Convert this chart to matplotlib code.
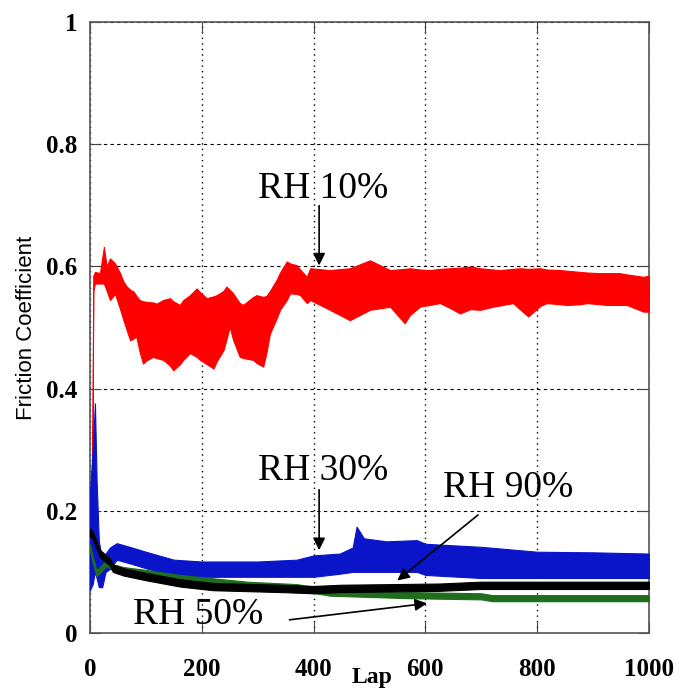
import matplotlib.pyplot as plt
import numpy as np

# envelope of each trace (lap, lower, upper)
lap_rh10 = [4, 6, 9, 18, 25, 30, 36, 45, 54, 60, 66, 72, 78, 83, 89, 95, 101, 113, 119, 131, 143, 149, 161, 167, 179, 191, 197, 209, 221, 227, 239, 244, 250, 256, 268, 274, 292, 298, 310, 316, 322, 334, 340, 352, 358, 370, 376, 388, 394, 429, 465, 501, 537, 563, 572, 590, 608, 626, 644, 662, 680, 698, 721, 733, 757, 769, 784, 805, 817, 841, 853, 877, 889, 912, 924, 948, 960, 990, 1000]
lo_rh10 = [0.16, 0.56, 0.572, 0.572, 0.572, 0.56, 0.545, 0.555, 0.53, 0.512, 0.495, 0.479, 0.482, 0.485, 0.46, 0.441, 0.446, 0.452, 0.45, 0.447, 0.438, 0.43, 0.44, 0.447, 0.458, 0.452, 0.447, 0.44, 0.433, 0.445, 0.463, 0.48, 0.501, 0.48, 0.452, 0.45, 0.447, 0.442, 0.436, 0.46, 0.49, 0.515, 0.529, 0.545, 0.556, 0.555, 0.553, 0.54, 0.545, 0.529, 0.512, 0.529, 0.534, 0.507, 0.52, 0.534, 0.537, 0.54, 0.532, 0.523, 0.53, 0.529, 0.534, 0.536, 0.54, 0.53, 0.518, 0.535, 0.54, 0.538, 0.537, 0.538, 0.54, 0.538, 0.537, 0.537, 0.537, 0.526, 0.526]
hi_rh10 = [0.17, 0.585, 0.591, 0.589, 0.632, 0.60, 0.613, 0.605, 0.589, 0.575, 0.567, 0.562, 0.559, 0.552, 0.545, 0.543, 0.542, 0.541, 0.539, 0.545, 0.548, 0.543, 0.537, 0.545, 0.553, 0.564, 0.558, 0.548, 0.551, 0.553, 0.56, 0.567, 0.562, 0.556, 0.54, 0.537, 0.55, 0.553, 0.55, 0.552, 0.56, 0.578, 0.59, 0.608, 0.605, 0.602, 0.595, 0.583, 0.597, 0.594, 0.597, 0.61, 0.594, 0.596, 0.597, 0.595, 0.594, 0.596, 0.597, 0.598, 0.60, 0.597, 0.595, 0.594, 0.596, 0.597, 0.596, 0.597, 0.595, 0.594, 0.593, 0.591, 0.59, 0.589, 0.589, 0.589, 0.587, 0.583, 0.585]

lap_rh30 = [0, 5, 9, 12, 16, 22, 28, 36, 48, 75, 100, 150, 200, 300, 370, 400, 447, 470, 477, 490, 530, 585, 600, 700, 800, 900, 1000]
lo_rh30 = [0.07, 0.08, 0.10, 0.09, 0.075, 0.075, 0.10, 0.105, 0.12, 0.113, 0.106, 0.093, 0.092, 0.092, 0.092, 0.092, 0.097, 0.10, 0.10, 0.10, 0.10, 0.10, 0.095, 0.09, 0.09, 0.09, 0.09]
hi_rh30 = [0.23, 0.30, 0.376, 0.25, 0.15, 0.12, 0.13, 0.14, 0.147, 0.14, 0.133, 0.12, 0.117, 0.117, 0.12, 0.127, 0.13, 0.14, 0.174, 0.155, 0.15, 0.152, 0.146, 0.141, 0.133, 0.132, 0.13]

lap_rh90 = [0, 5, 18, 36, 41, 60, 102, 161, 220, 340, 400, 450, 540, 626, 700, 1000]
mid_rh90 = [0.165, 0.16, 0.13, 0.116, 0.106, 0.10, 0.092, 0.082, 0.076, 0.073, 0.071, 0.073, 0.074, 0.075, 0.078, 0.078]

lap_rh50 = [0, 5, 12, 20, 30, 40, 60, 102, 161, 281, 370, 430, 500, 567, 700, 720, 1000]
mid_rh50 = [0.14, 0.12, 0.098, 0.105, 0.115, 0.108, 0.103, 0.098, 0.09, 0.079, 0.075, 0.066, 0.064, 0.062, 0.06, 0.057, 0.057]

fig = plt.figure(figsize=(6.81, 6.93), dpi=100)
ax = fig.add_axes([0.132, 0.0866, 0.821, 0.8816])

ax.fill_between(lap_rh10, lo_rh10, hi_rh10, color='#ff0000', lw=0.8, zorder=3)
ax.fill_between(lap_rh30, lo_rh30, hi_rh30, color='#0a14c8', lw=0.8, zorder=3)
ax.fill_between(lap_rh50, np.array(mid_rh50) - 0.005, np.array(mid_rh50) + 0.005, color='#1e6e1e', lw=0.8, zorder=4)
ax.fill_between(lap_rh90, np.array(mid_rh90) - 0.006, np.array(mid_rh90) + 0.006, color='black', lw=0.8, zorder=5)

ax.set_xlim(0, 1000)
ax.set_ylim(0, 1)
ax.set_xticks([0, 200, 400, 600, 800, 1000])
ax.set_yticks([0, 0.2, 0.4, 0.6, 0.8, 1])
ax.set_yticklabels(['0', '0.2', '0.4', '0.6', '0.8', '1'])
ax.xaxis.grid(True, linestyle=(0, (1, 3)), color='black', lw=1)
ax.yaxis.grid(True, linestyle=(0, (3, 3)), color='black', lw=0.8)
ax.set_axisbelow(True)
ax.tick_params(direction='in', length=8, top=True, right=True, color='#444444')
ax.tick_params(axis='x', pad=18)
ax.tick_params(axis='y', pad=9)
for lab in ax.get_xticklabels() + ax.get_yticklabels():
    lab.set_fontfamily('Liberation Serif')
    lab.set_fontweight('bold')
    lab.set_fontsize(18)
for s in ax.spines.values():
    s.set_color('#555555')
    s.set_linewidth(1.2)

ax.set_ylabel('Friction Coefficient', fontsize=16, fontfamily='Liberation Sans')
ax.yaxis.set_label_coords(-0.095, 0.5)
fig.text(372 / 681, 1 - 677 / 693, 'Lap', fontsize=17, fontfamily='Liberation Serif',
         fontweight='bold', ha='center', va='center')

txt = dict(fontsize=27, fontfamily='Liberation Serif', ha='center', va='center', zorder=6)
arr = dict(arrowstyle='-|>', color='black', lw=1.2, mutation_scale=18)
ax.annotate('', xy=(410, 0.597), xytext=(410, 0.704), arrowprops=arr, zorder=6)
ax.text(418, 0.727, 'RH 10%', **txt)
ax.annotate('', xy=(410, 0.131), xytext=(410, 0.239), arrowprops=arr, zorder=6)
ax.text(418, 0.265, 'RH 30%', **txt)
ax.annotate('', xy=(546, 0.083), xytext=(698, 0.196), arrowprops=arr, zorder=6)
ax.text(748, 0.238, 'RH 90%', **txt)
ax.annotate('', xy=(608, 0.049), xytext=(352, 0.021), arrowprops=arr, zorder=6)
ax.text(194, 0.03, 'RH 50%', **txt)

fig.savefig('out.png', dpi=100)
